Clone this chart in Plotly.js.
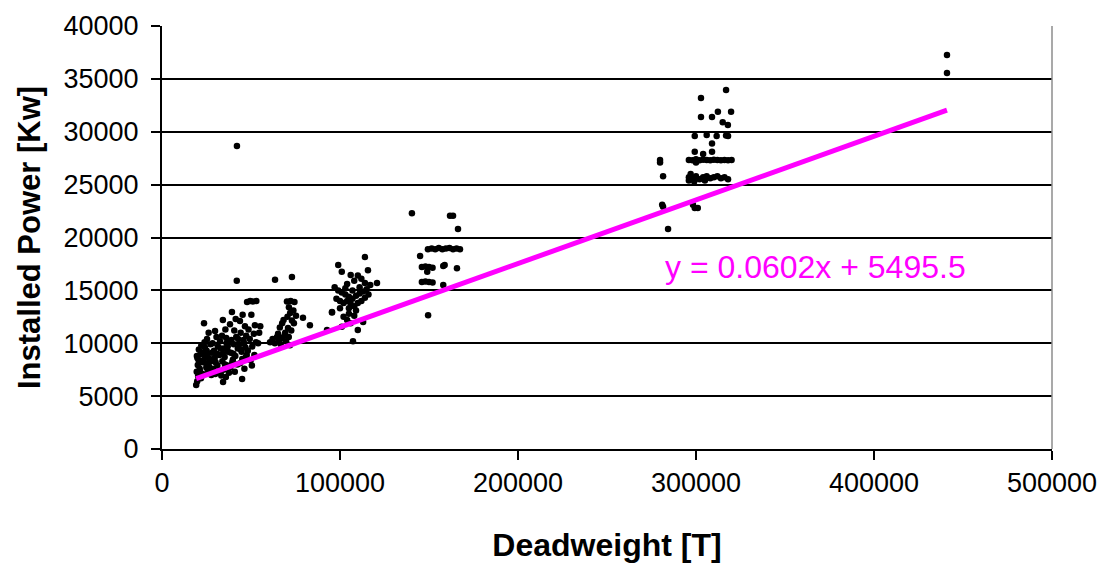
<!DOCTYPE html>
<html>
<head>
<meta charset="utf-8">
<script src="https://cdn.plot.ly/plotly-3.0.1.min.js"></script>
<style>
html, body { margin: 0; padding: 0; background: #fff; }
#chart { width: 1106px; height: 565px; }
</style>
</head>
<body>
<div id="chart"></div>
<script>
// Deadweight [T] of each ship
const dwt = [
  // ~20k
  19200, 19800, 20300, 19500, 21200, 20100, 22400, 19900, 21600, 20700, 22100, 23600, 22800, 21900,
  20600, 22900, 21400, 19600,
  // ~25k
  24300, 25100, 26400, 23900, 27200, 25800, 24700, 26900, 28100, 25300, 27700, 24100, 26200, 23300,
  25600, 27400, 24900,
  // ~30k
  29800, 30600, 31400, 29200, 32200, 30100, 28800, 31700, 33300, 29600, 32600, 30900, 28400,
  31100, 32900, 29900,
  // ~35k
  34200, 35600, 33700, 36300, 34800, 37100, 35200, 33900, 36700, 34500, 37600, 35900, 34300, 36100,
  35400, 36900, 34100,
  // ~40k
  42000, 39300, 38200, 40600, 41700, 39000, 40300, 42600, 38700, 41200, 39800, 42300, 38400, 40900, 37900, 41400,
  40100, 42800, 39500,
  // ~45k
  47800, 45300, 43800, 46600, 44200, 47300, 45800, 43400, 46900, 44700, 47600, 45100, 43900, 45000, 46300,
  44400, 46100, 47100,
  // ~50k
  49500, 51100, 53000, 50200, 52200, 48600, 51600, 49300, 52800, 50700, 48200, 51900, 49800, 50500,
  54000, 54600, 55200,
  // ~70k
  63500, 73000, 70200, 72300, 74400, 71300, 72000, 68300, 73000, 79200, 83100, 66200, 70800, 69200,
  72600, 64600, 67300, 62100, 60700, 65800, 68800, 71200, 63400, 66700, 69700, 74100, 75300, 70500,
  67500, 73800, 65200, 71900, 92700, 95500,
  // ~105k
  114000, 99000, 101000, 115700, 106000, 110000, 112000, 108000, 114000, 120800, 104000, 97000, 99000,
  101000, 103000, 105000, 107000, 109000, 111000, 113000, 115000, 98000, 100000, 102000, 104000, 106000,
  108000, 110000, 112000, 114000, 116000, 103000, 107000, 111000, 105000, 109000, 100000, 95500, 102000,
  104000, 106000, 113000, 101000, 110000, 107300, 105000, 108000, 117000,
  // ~155k
  140400, 161800, 163500, 166300, 149400, 151500, 153500, 155500, 157500, 159500, 161500, 163500, 165500,
  167400, 145000, 146000, 148000, 150000, 152000, 158000, 158800, 165700, 149000, 146000, 148000, 150000,
  152000, 158000, 149500,
  // ~300k
  316900, 302800, 302800, 309000, 312300, 319700, 315000, 317900, 299300, 306000, 311600, 316900, 318000,
  309000, 299300, 304000, 309000, 279800, 279800, 296000, 298000, 300000, 302000, 304000, 306000, 308000,
  310000, 312000, 314000, 316000, 318000, 320000, 281500, 296000, 298000, 300000, 302000, 304000, 306000,
  308000, 310000, 312000, 314000, 316000, 318000, 296000, 299000, 305000, 297000, 281000, 281500, 298300,
  299300, 301000, 284300, 300000,
  // outliers
  42100, 441000, 441000
];

// Installed Power [Kw] of each ship
const power = [
  6050, 6400, 6900, 7300, 7600, 7950, 8200, 8600, 8950, 9400, 9800, 11900, 7100, 6700,
  8400, 9100, 7300, 8800,
  8700, 9300, 7800, 10100, 9900, 7400, 8100, 8500, 9100, 10400, 7000, 9600, 11000, 8400,
  8900, 8300, 7700,
  11150, 10600, 9700, 9300, 8900, 8200, 7600, 7300, 6950, 8600, 10200, 9000, 10000,
  7900, 9500, 7100,
  12200, 11300, 10700, 10000, 9500, 9200, 8700, 8300, 7900, 7500, 7200, 6800, 6330, 10500,
  8000, 9700, 9000,
  15900, 12950, 11800, 11200, 10600, 10300, 9900, 9500, 9100, 8800, 8450, 8000, 7700, 7300, 10100, 12300,
  9000, 10400, 8200,
  13900, 12700, 12100, 11600, 11000, 10700, 10300, 9900, 9600, 9200, 8900, 8500, 8100, 6620, 7600,
  9400, 10000, 8700,
  14000, 13950, 14000, 12700, 11700, 11300, 10900, 10400, 10100, 9700, 9300, 8900, 8400, 7900,
  10000, 11000, 11600,
  16000, 16260, 13950, 14000, 13900, 13400, 12850, 12200, 12150, 12400, 11700, 11500, 11450, 11000,
  11200, 10600, 10500, 10400, 10100, 10300, 10700, 10600, 10000, 9900, 10200, 11900, 12600, 12500,
  11900, 13100, 10900, 9800, 11250, 12900,
  18150, 17400, 16750, 16900, 16450, 16400, 16100, 15900, 15700, 15700, 15600, 15300, 15000,
  14800, 14600, 14400, 14200, 14500, 14700, 14900, 15100, 14200, 14000, 13800, 14000, 13700,
  13500, 13800, 14000, 14300, 14600, 15200, 15000, 15300, 13300, 13100, 13300, 12950, 12500,
  12200, 11900, 12000, 11550, 11250, 10200, 12800, 12600, 15500,
  22300, 22050, 22050, 20800, 18900, 18950, 18900, 19000, 18900, 18950, 19000, 18900, 18950,
  18900, 18250, 17200, 17250, 17200, 17150, 17300, 17400, 17100, 16750, 15800, 15850, 15800,
  15750, 15500, 12650,
  33950, 33200, 31400, 31400, 31900, 31900, 30900, 30650, 29600, 29700, 29600, 29650, 29600,
  28900, 28100, 27900, 28100, 27330, 27100, 27330, 27300, 27400, 27300, 27350, 27330, 27300,
  27350, 27330, 27300, 27330, 27300, 27330, 25800, 25700, 25600, 25800, 25500, 25700, 25800,
  25600, 25700, 25800, 25600, 25700, 25500, 25400, 25300, 25400, 26000, 23100, 22900, 23100,
  22800, 22800, 20800, 27100,
  28650, 37260, 35550
];

// Linear trendline shown on the chart
const slope = 0.0602;
const intercept = 5495.5;
const equationText = "y = 0.0602x + 5495.5";

const xTickVals = [0, 100000, 200000, 300000, 400000, 500000];
const yTickVals = [0, 5000, 10000, 15000, 20000, 25000, 30000, 35000, 40000];

const xMin = Math.min(...dwt), xMax = Math.max(...dwt);
const trendX = [xMin, xMax];
const trendY = trendX.map(v => slope * v + intercept);

const FONT = "'Liberation Sans', Arial, sans-serif";

const traces = [
  {
    x: dwt, y: power, type: 'scatter', mode: 'markers',
    marker: { color: '#000000', size: 6.5 },
    hoverinfo: 'x+y', showlegend: false
  },
  {
    x: trendX, y: trendY, type: 'scatter', mode: 'lines',
    line: { color: '#FF00FF', width: 5 },
    showlegend: false
  }
];

const layout = {
  width: 1106, height: 565,
  margin: { l: 162, r: 54, t: 26, b: 116 },
  paper_bgcolor: '#ffffff', plot_bgcolor: '#ffffff',
  font: { family: FONT, color: '#000000', size: 27 },
  showlegend: false,
  xaxis: {
    range: [0, 500000], tickvals: xTickVals, ticktext: xTickVals.map(String),
    ticks: 'outside', ticklen: 9, tickwidth: 2, tickcolor: '#000',
    showline: true, linecolor: '#000', linewidth: 2,
    showgrid: false, zeroline: false,
    tickfont: { family: FONT, size: 27, color: '#000' },
    ticklabelstandoff: 0,
    automargin: false,
    title: { text: 'Deadweight [T]', font: { family: FONT, size: 32, color: '#000', weight: 'bold' }, standoff: 36 }
  },
  yaxis: {
    range: [0, 40000], tickvals: yTickVals, ticktext: yTickVals.map(String),
    ticks: 'outside', ticklen: 9, tickwidth: 2, tickcolor: '#000',
    showline: true, linecolor: '#000', linewidth: 2,
    showgrid: true, gridcolor: '#000', gridwidth: 2,
    zeroline: false,
    tickfont: { family: FONT, size: 27, color: '#000' },
    ticklabelstandoff: 7,
    automargin: false,
    title: { text: 'Installed Power [Kw]', font: { family: FONT, size: 31, color: '#000', weight: 'bold' }, standoff: 14 }
  },
  shapes: [
    { type: 'line', xref: 'paper', yref: 'paper', x0: 1, x1: 1, y0: 0, y1: 1,
      line: { color: '#8c8c8c', width: 1.5 } }
  ],
  annotations: [
    { x: 366900, y: 17210, xref: 'x', yref: 'y', text: equationText, showarrow: false,
      font: { family: FONT, size: 32, color: '#FF00FF' } }
  ]
};

Plotly.newPlot('chart', traces, layout, { displayModeBar: false, staticPlot: true });
</script>
</body>
</html>
